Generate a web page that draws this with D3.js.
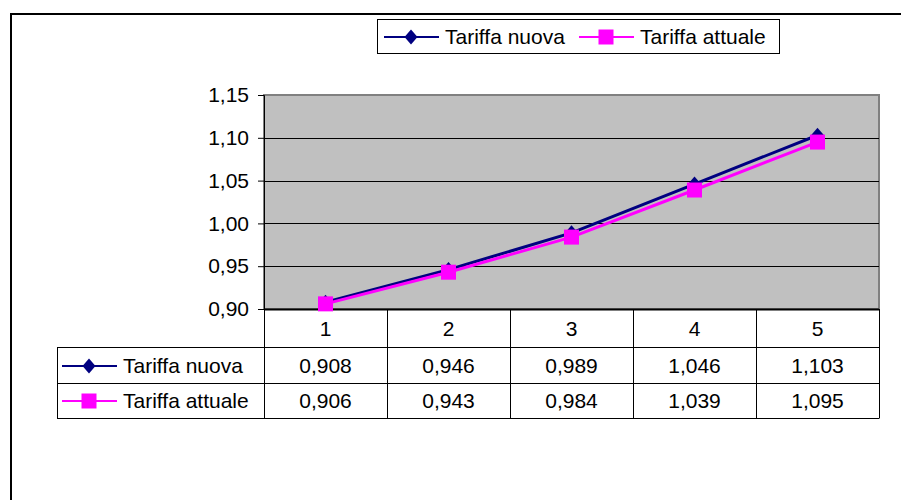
<!DOCTYPE html>
<html><head><meta charset="utf-8">
<script src="https://cdn.jsdelivr.net/npm/d3@7"></script>
<style>body{margin:0;background:#fff}svg{display:block}text{font-family:"Liberation Sans",Arial,sans-serif;fill:#000}</style>
</head><body><svg id="c" width="901" height="500"></svg>
<script>
const categories = ["1","2","3","4","5"];
const seriesNames = ["Tariffa nuova","Tariffa attuale"];
const nuova = [0.908,0.946,0.989,1.046,1.103];
const attuale = [0.906,0.943,0.984,1.039,1.095];
const yTicks = [0.90,0.95,1.00,1.05,1.10,1.15];
const colors = ["#000080","#FF00FF"];

const FS = 21;
const svg = d3.select("#c");
const fmt = v => d3.format(".2f")(v).replace(".",",");
const fmt3 = v => d3.format(".3f")(v).replace(".",",");

svg.append("rect").attr("x",11).attr("y",14).attr("width",960).attr("height",560)
  .attr("fill","#fff").attr("stroke","#000").attr("stroke-width",2);

const L=264, R=879, T=95, B=309;
const x = d3.scaleBand().domain(categories).range([L,R]);
const y = d3.scaleLinear().domain([0.90,1.15]).range([B,T]);

svg.append("rect").attr("x",L).attr("y",T).attr("width",R-L).attr("height",B-T)
  .attr("fill","#c0c0c0").attr("stroke","#808080").attr("stroke-width",2);
svg.append("g").selectAll("line").data(yTicks.slice(1,-1)).join("line")
  .attr("x1",L).attr("x2",R).attr("y1",d=>Math.round(y(d))+0.5).attr("y2",d=>Math.round(y(d))+0.5)
  .attr("stroke","#000").attr("stroke-width",1);

const yAxis = d3.axisLeft(y).tickValues(yTicks).tickFormat(fmt).tickSize(6).tickPadding(9);
const gy = svg.append("g").attr("transform",`translate(${L},0)`).call(yAxis);
gy.attr("font-size",null).attr("font-family",null);
gy.select(".domain").attr("stroke","#000");
gy.selectAll("text").style("font-size",FS+"px");

const tbl = svg.append("g").attr("stroke","#000").attr("stroke-width",1);
tbl.append("line").attr("x1",L).attr("x2",R).attr("y1",B+0.5).attr("y2",B+0.5).attr("stroke-width",2);
[347,383,418].forEach(yy=>tbl.append("line").attr("x1",57).attr("x2",R).attr("y1",yy+0.5).attr("y2",yy+0.5));
tbl.append("line").attr("x1",57.5).attr("x2",57.5).attr("y1",347).attr("y2",418.5);
categories.forEach(c=>tbl.append("line").attr("x1",Math.round(x(c))+0.5).attr("x2",Math.round(x(c))+0.5).attr("y1",B).attr("y2",418.5));
tbl.append("line").attr("x1",R+0.5).attr("x2",R+0.5).attr("y1",B).attr("y2",418.5);

svg.append("g").selectAll("text").data(categories).join("text")
  .attr("x",d=>x(d)+x.bandwidth()/2).attr("y",336).attr("text-anchor","middle").style("font-size",FS+"px").text(d=>d);

const data = [nuova, attuale];
function marker(g, i, cx, cy){
  if(i===0){
    g.append("path").attr("d","M0,-7.5L6.5,0L0,7.5L-6.5,0Z").attr("transform",`translate(${cx},${cy})`).attr("fill",colors[0]);
  } else {
    g.append("rect").attr("x",cx-7.5).attr("y",cy-7.5).attr("width",15).attr("height",15).attr("fill",colors[1]);
  }
}
const rowMid = [366, 401];
data.forEach((vals,i)=>{
  const g = svg.append("g");
  g.append("line").attr("x1",62).attr("x2",117).attr("y1",rowMid[i]).attr("y2",rowMid[i]).attr("stroke",colors[i]).attr("stroke-width",2);
  marker(g,i,89,rowMid[i]);
  g.append("text").attr("x",123).attr("y",rowMid[i]+7).style("font-size",FS+"px").text(seriesNames[i]);
  g.selectAll("text.v").data(vals).join("text").attr("class","v")
    .attr("x",(d,j)=>x(categories[j])+x.bandwidth()/2).attr("y",rowMid[i]+7).attr("text-anchor","middle").style("font-size",FS+"px").text(fmt3);
});

const line = d3.line().x((d,j)=>x(categories[j])+x.bandwidth()/2).y(d=>y(d));
data.forEach((vals,i)=>{
  svg.append("path").datum(vals).attr("d",line).attr("fill","none").attr("stroke",colors[i]).attr("stroke-width",3);
});
data.forEach((vals,i)=>{
  const g = svg.append("g");
  vals.forEach((v,j)=>marker(g,i,x(categories[j])+x.bandwidth()/2,y(v)));
});

const lg = svg.append("g");
lg.append("rect").attr("x",377.5).attr("y",19.5).attr("width",402).attr("height",34).attr("fill","#fff").attr("stroke","#000").attr("stroke-width",1);
const lgX = [384, 579];
seriesNames.forEach((n,i)=>{
  lg.append("line").attr("x1",lgX[i]).attr("x2",lgX[i]+55).attr("y1",37).attr("y2",37).attr("stroke",colors[i]).attr("stroke-width",2);
  marker(lg,i,lgX[i]+27,37);
  lg.append("text").attr("x",lgX[i]+61).attr("y",44).style("font-size",FS+"px").text(n);
});
</script></body></html>
